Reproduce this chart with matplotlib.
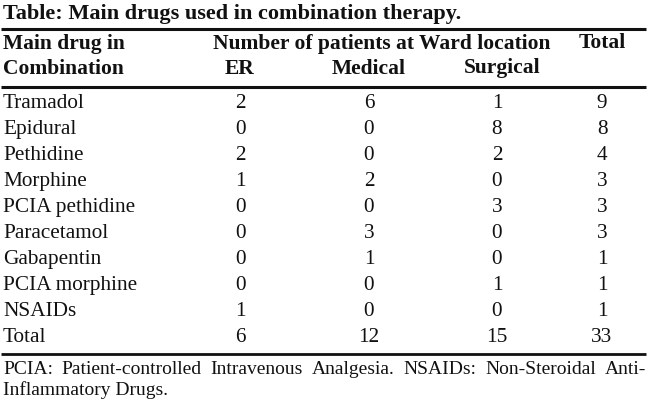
import matplotlib
matplotlib.use("Agg")
import matplotlib.pyplot as plt

title = "Table: Main drugs used in combination therapy."
header_top = ["Main drug in", "Number of patients at Ward location", "Total"]
header_bottom = ["Combination", "ER", "Medical", "Surgical"]
drugs = ["Tramadol", "Epidural", "Pethidine", "Morphine", "PCIA pethidine",
         "Paracetamol", "Gabapentin", "PCIA morphine", "NSAIDs", "Total"]
er = [2, 0, 2, 1, 0, 0, 0, 0, 1, 6]
medical = [6, 0, 0, 2, 0, 3, 1, 0, 0, 12]
surgical = [1, 8, 2, 0, 3, 0, 0, 1, 0, 15]
total = [9, 8, 4, 3, 3, 3, 1, 1, 1, 33]
foot1 = "PCIA: Patient-controlled Intravenous Analgesia. NSAIDs: Non-Steroidal Anti-"
foot2 = "Inflammatory Drugs."

W, H = 650, 404
fig = plt.figure(figsize=(W / 100, H / 100), dpi=100)
ax = fig.add_axes([0, 0, 1, 1])
ax.set_xlim(0, W)
ax.set_ylim(H, 0)
ax.axis("off")

font = "Liberation Serif"
ink = "#111111"
body = dict(family=font, size=15.3, color=ink, va="baseline")
bold = dict(family=font, size=15.5, color=ink, va="baseline", weight="bold")

# title and rules
ax.text(3, 18.5, title, family=font, size=16, weight="bold", color=ink, va="baseline")
for y, lw in [(28.5, 2.2), (86.8, 2.2), (353.5, 2.0)]:
    ax.plot([1, 646], [y, y], color=ink, lw=lw, solid_capstyle="butt")

# header
col_x = [240, 369, 497, 602]
ax.text(3, 48.5, header_top[0], ha="left", **bold)
ax.text(381.5, 48.5, header_top[1], ha="center", **bold)
ax.text(602, 48.5, header_top[2], ha="center", **bold)
ax.text(3, 73.5, header_bottom[0], ha="left", **bold)
ax.text(240, 73.5, header_bottom[1], ha="center", **bold)
ax.text(369, 73.5, header_bottom[2], ha="center", **bold)
ax.text(502, 73.5, header_bottom[3], ha="center", **bold)

# body rows
for i, name in enumerate(drugs):
    y = 108.5 + 25.9 * i
    ax.text(3, y, name, ha="left", **body)
    for x, v in zip(col_x, (er[i], medical[i], surgical[i], total[i])):
        ax.text(x, y, str(v), ha="center", **body)

# footnote, first line justified
foot = dict(family=font, size=14, color=ink, va="baseline", ha="left")
renderer = fig.canvas.get_renderer()
words = foot1.split()
arts = [ax.text(0, 374, w, **foot) for w in words]
widths = [a.get_window_extent(renderer).width for a in arts]
gap = (646 - 3 - sum(widths)) / (len(words) - 1)
x = 3
for a, w in zip(arts, widths):
    a.set_x(x)
    x += w + gap
ax.text(3, 395, foot2, **foot)

fig.savefig("out.png", dpi=100)
